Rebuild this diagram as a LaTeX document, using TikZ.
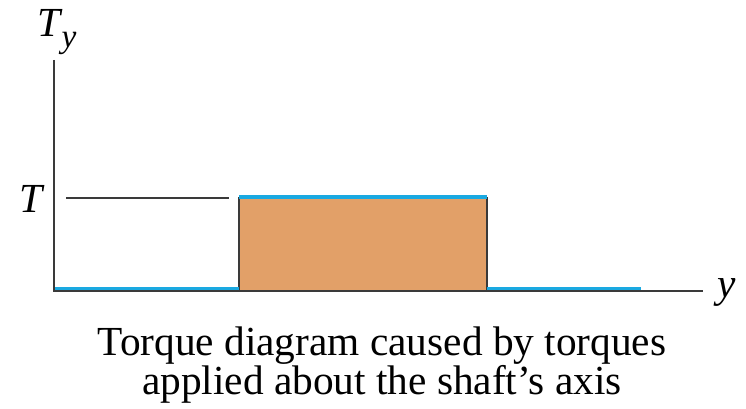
\documentclass[tikz,border=0pt]{standalone}
\usepackage{fontspec}
\setmainfont{Liberation Serif}
\usetikzlibrary{calc}
\definecolor{torqueFill}{HTML}{E2A068}
\definecolor{torqueBlue}{HTML}{1AA9E1}
\definecolor{axisGray}{HTML}{3A3A3A}
\tikzset{
  axis/.style={draw=axisGray,line width=1.4pt},
  level/.style={draw=torqueBlue,line width=3pt},
  lbl/.style={font=\fontsize{31}{31}\selectfont\itshape,inner sep=0pt,anchor=base},
  caption/.style={font=\fontsize{31}{31}\selectfont,inner sep=0pt,anchor=base}
}
\begin{document}
\begin{tikzpicture}[x=0.75pt,y=-0.75pt]
            \useasboundingbox (0,0) rectangle (746,409);
            % axes
            \coordinate (O) at (54,291);
            \coordinate (Ytop) at (54,60);
            \coordinate (Xend) at (703,291);
            \node[lbl,anchor=base west] (Tylabel) at (37,37){T\kern1pt\raisebox{-8pt}{\fontsize{25}{25}\selectfont y}};
            \node[lbl] (ylabel) at (727,298){y};
            \node[lbl] (Tlabel) at (31,213){T};

            % torque block
            \coordinate (A) at (239,291);
            \coordinate (B) at (239,198);
            \coordinate (C) at (487,198);
            \coordinate (D) at (487,291);
            \coordinate (E) at (641,291);
            \filldraw[fill=torqueFill,draw=axisGray,line width=1.2pt] (A) -- (B) -- (C) -- (D) -- cycle;
            \draw[level] ($(O)+(0,-2)$) -- ($(A)+(0,-2)$);
            \draw[level] ($(D)+(0,-2)$) -- ($(E)+(0,-2)$);
            \draw[level] ($(B)+(0,-1)$) -- ($(C)+(0,-1)$);

            % reference line for T
            \coordinate (Tstart) at (66,198);
            \coordinate (Tend) at (229,198);
            \draw[draw=axisGray,line width=1.2pt] (Tstart) -- (Tend);

            \draw[axis] (Ytop) -- (O) -- (Xend);

            \node[caption] (caption1) at (382,356){Torque diagram caused by torques};
            \node[caption] (caption2) at (382,395){applied about the shaft’s axis};
          \end{tikzpicture}
\end{document}
